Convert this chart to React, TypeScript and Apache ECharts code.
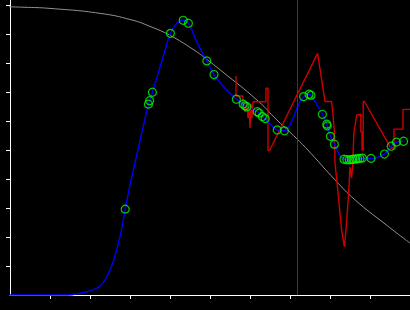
import React, { useEffect, useRef } from "react";
import * as echarts from "echarts";

// Reference (gray) curve: [x, y]
const grayCurve: number[][] = [
  [-0.25, 9.94], [0.35, 9.92], [1.0, 9.88], [2.25, 9.71], [3.05, 9.48],
  [3.5, 9.26], [4.0, 8.95], [4.575, 8.47], [4.875, 8.17], [5.3, 7.71],
  [6.2, 6.69], [6.675, 6.03], [7.175, 5.38], [7.525, 4.88], [8.125, 3.97],
  [8.625, 3.28], [9.375, 2.45], [10.0, 1.79],
];

// Fitted (blue) curve: [x, y]
const blueCurve: number[][] = [
  [0.0, 0], [1.45, 0], [1.75, 0.06], [2.0, 0.14], [2.25, 0.31], [2.42, 0.63],
  [2.58, 1.15], [2.75, 2.01], [2.88, 2.96], [3.0, 3.79], [3.17, 4.83],
  [3.46, 6.58], [3.49, 6.7], [3.56, 6.99], [3.83, 8.22], [4.01, 9.02],
  [4.17, 9.37], [4.33, 9.47], [4.46, 9.37], [4.67, 8.73], [4.92, 8.07],
  [5.1, 7.6], [5.375, 7.13], [5.66, 6.75], [5.83, 6.58], [5.875, 6.52],
  [5.92, 6.49], [6.18, 6.32], [6.23, 6.27], [6.31, 6.15], [6.38, 6.08],
  [6.68, 5.69], [6.86, 5.66], [7.04, 5.98], [7.21, 6.55], [7.34, 6.84],
  [7.475, 6.92], [7.525, 6.89], [7.81, 6.23], [7.92, 5.89], [7.93, 5.83],
  [8.01, 5.47], [8.11, 5.2], [8.25, 4.79], [8.35, 4.68], [8.42, 4.67],
  [8.48, 4.66], [8.54, 4.67], [8.58, 4.68], [8.64, 4.69], [8.69, 4.7],
  [8.75, 4.71], [8.81, 4.72], [9.025, 4.71], [9.36, 4.86], [9.53, 5.13],
  [9.66, 5.27], [9.84, 5.3],
];

// Observed points (green circles): [x, y]
const markers: number[][] = [
  [2.88, 2.96], [3.46, 6.58], [3.49, 6.7], [3.56, 6.99], [4.01, 9.02],
  [4.33, 9.47], [4.46, 9.37], [4.92, 8.07], [5.1, 7.6], [5.66, 6.75],
  [5.83, 6.58], [5.875, 6.52], [5.92, 6.49], [6.18, 6.32], [6.23, 6.27],
  [6.31, 6.15], [6.38, 6.08], [6.68, 5.69], [6.86, 5.66], [7.34, 6.84],
  [7.475, 6.92], [7.525, 6.89], [7.81, 6.23], [7.92, 5.89], [7.93, 5.83],
  [8.01, 5.47], [8.11, 5.2], [8.35, 4.68], [8.42, 4.67], [8.48, 4.66],
  [8.54, 4.67], [8.58, 4.68], [8.64, 4.69], [8.69, 4.7], [8.75, 4.71],
  [8.81, 4.72], [9.025, 4.71], [9.36, 4.86], [9.53, 5.13], [9.66, 5.27],
  [9.84, 5.3],
];

// Raw signal (red): [x, y]
const redSignal: number[][] = [
  [5.65, 7.55], [5.65, 6.86], [5.825, 6.86], [5.825, 6.62], [5.875, 6.31],
  [5.925, 6.59], [5.95, 6.1], [5.975, 6.45], [6.0, 5.76], [6.025, 6.59],
  [6.05, 6.1], [6.075, 6.66], [6.2, 6.66], [6.4, 6.66], [6.4, 7.13],
  [6.45, 7.13], [6.45, 4.98], [6.49, 4.98], [7.69, 8.33], [7.875, 6.67],
  [8.04, 6.67], [8.075, 6.21], [8.11, 5.63], [8.125, 4.55], [8.21, 3.39],
  [8.29, 2.24], [8.36, 1.66], [8.4, 2.24], [8.46, 3.39], [8.5, 4.41],
  [8.54, 4.03], [8.57, 4.55], [8.58, 5.0], [8.6, 5.62], [8.67, 6.21],
  [8.77, 6.23], [8.77, 5.63], [8.8, 5.63], [8.8, 5.0], [8.83, 5.0],
  [8.83, 6.67], [8.86, 6.67], [9.48, 5.17], [9.5, 5.07], [9.6, 5.07],
  [9.6, 5.72], [9.825, 5.72], [9.825, 6.4], [10.0, 6.4],
];

const cursorX = 7.1875;
const X_MIN = 0;
const X_MAX = 10;
const Y_MIN = 0;
const Y_MAX = 10.17;
const xTicks = [1, 2, 3, 4, 5, 6, 7, 8, 9];
const yTicks = [1, 2, 3, 4, 5, 6, 7, 8, 9, 10];

export default function App() {
  const ref = useRef<HTMLDivElement>(null);

  useEffect(() => {
    if (!ref.current) return;
    const chart = echarts.init(ref.current, undefined, { renderer: "svg" });
    const axisCommon = {
      type: "value" as const,
      axisLine: { show: true, lineStyle: { color: "#ffffff", width: 1 } },
      axisLabel: { show: false },
      splitLine: { show: false },
    };
    chart.setOption({
      animation: false,
      backgroundColor: "#000000",
      grid: { left: 10, right: 0, top: 0, bottom: 15, containLabel: false },
      xAxis: {
        ...axisCommon,
        min: X_MIN,
        max: X_MAX,
        axisTick: {
          show: true,
          length: 4,
          inside: false,
          lineStyle: { color: "#ffffff", width: 1 },
          customValues: xTicks,
        },
      },
      yAxis: {
        ...axisCommon,
        min: Y_MIN,
        max: Y_MAX,
        axisTick: {
          show: true,
          length: 4,
          inside: false,
          lineStyle: { color: "#ffffff", width: 1 },
          customValues: yTicks,
        },
      },
      series: [
        {
          type: "line",
          data: grayCurve,
          smooth: 0.5,
          showSymbol: false,
          clip: false,
          lineStyle: { color: "#939393", width: 1 },
          z: 2,
        },
        {
          type: "line",
          data: redSignal,
          showSymbol: false,
          clip: false,
          lineStyle: { color: "#cc0000", width: 1.4 },
          z: 3,
        },
        {
          type: "line",
          data: blueCurve,
          smooth: 0.35,
          showSymbol: false,
          clip: false,
          lineStyle: { color: "#0000ff", width: 1.4 },
          z: 4,
        },
        {
          type: "scatter",
          data: markers,
          symbol: "circle",
          symbolSize: 8,
          itemStyle: {
            color: "rgba(0,0,0,0)",
            borderColor: "#00ff00",
            borderWidth: 1.2,
          },
          z: 5,
        },
        {
          type: "line",
          data: [
            [cursorX, Y_MIN],
            [cursorX, Y_MAX],
          ],
          showSymbol: false,
          lineStyle: { color: "#8800aa", width: 1 },
          z: 6,
        },
      ],
    });
    return () => chart.dispose();
  }, []);

  return (
    <div
      ref={ref}
      style={{
        position: "fixed",
        left: 0,
        top: 0,
        width: 410,
        height: 310,
        background: "#000",
      }}
    />
  );
}
